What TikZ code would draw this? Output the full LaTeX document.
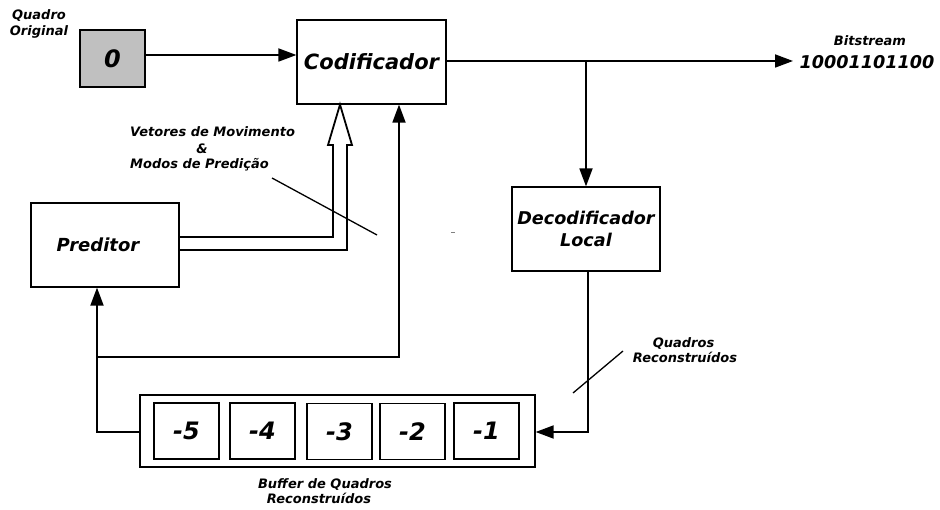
\documentclass[tikz,border=0pt]{standalone}
\usepackage{fontspec}
\setmainfont{DejaVu Sans}
\usetikzlibrary{arrows.meta,calc}
\definecolor{boxgray}{RGB}{192,192,192}
\begin{document}
\begin{tikzpicture}[x=1pt,y=-1pt,
  blk/.style={draw,line width=1.2pt,inner sep=0pt,align=center,font=\bfseries\itshape\fontsize{18}{22}\selectfont},
  cell/.style={draw,line width=1.2pt,inner sep=0pt,minimum width=65pt,minimum height=56pt,font=\bfseries\itshape\fontsize{24}{28}\selectfont},
  lbl/.style={font=\bfseries\itshape\fontsize{13}{15.5}\selectfont,inner sep=0pt,align=center},
  conn/.style={line width=1.8pt},
  arr/.style={conn,-{Triangle[length=18pt,width=13pt]}},
  thin/.style={line width=1.3pt}]
\useasboundingbox (0,0) rectangle (940,510);

% blocks
\node[cell,fill=boxgray,minimum height=57pt] (q0) at (112.5,58.5) {0};
\node[blk,minimum width=149pt,minimum height=84pt,font=\bfseries\itshape\fontsize{21}{25}\selectfont] (cod) at (371.5,62) {Codificador};
\node[blk,minimum width=148pt,minimum height=84pt,font=\bfseries\itshape\fontsize{17.6}{22}\selectfont] (dec) at (586,229) {Decodificador\\Local};
\node[blk,minimum width=148pt,minimum height=84pt] (pred) at (105,245) {\hspace*{-14pt}Preditor};
\node[draw,line width=1.3pt,minimum width=395pt,minimum height=72pt,inner sep=0pt] (buf) at (337.5,431) {};
\node[cell] (c5) at (186.5,431) {-5};
\node[cell] (c4) at (262.5,431) {-4};
\node[cell] (c3) at (339.5,431.5) {-3};
\node[cell] (c2) at (412.5,431.5) {-2};
\node[cell] (c1) at (486.5,431) {-1};

% labels
\node[lbl] (qo) at (39,24) {Quadro\\Original};
\node[lbl] (bs1) at (870,41) {Bitstream};
\node[lbl,font=\bfseries\itshape\fontsize{17.6}{20}\selectfont] (bs2) at (867,62) {10001101100};
\node[lbl,anchor=west] (vm1) at (130,132) {Vetores de Movimento};
\node[lbl] (vm2) at (202,149) {\&};
\node[lbl,anchor=west] (vm3) at (130,165) {Modos de Predição};
\node[lbl] (qr) at (685,350) {\hspace*{-3pt}Quadros\\Reconstruídos};
\node[lbl] (bl) at (325,491) {Buffer de Quadros\\\hspace*{-12pt}Reconstruídos};

% coordinates
\coordinate (in1) at (q0.east |- 0,55);
\coordinate (in2) at (cod.west |- 0,55);
\coordinate (o1) at (cod.east |- 0,61);
\coordinate (o2) at (793,61);
\coordinate (br) at (586,61);
\coordinate (d1) at (588,0 |- dec.south);
\coordinate (d2) at (588,432);
\coordinate (b1) at (buf.east |- 0,432);
\coordinate (l1) at (buf.west |- 0,432);
\coordinate (l2) at (97,432);
\coordinate (l3) at (97,0 |- pred.south);
\coordinate (f1) at (97,357);
\coordinate (f2) at (399,357);
\coordinate (f3) at (399,0 |- cod.south);

% connectors
\draw[arr] (in1) -- (in2);
\draw[arr] (o1) -- (o2);
\draw[arr] (br) -- (dec.north);
\draw[arr] (d1) -- (d2) -- (b1);
\draw[arr] (l1) -- (l2) -- (l3);
\draw[arr] (f1) -- (f2) -- (f3);

% hollow double arrow from predictor to coder
\draw[conn,line join=miter] (pred.east |- 0,237) -- (333,237) -- (333,145) -- (328,145)
  -- (340,0 |- cod.south) -- (352,145) -- (347,145) -- (347,250) -- (pred.east |- 0,250);

% marker lines
\draw[thin] (272,178) -- (377,235);
\draw[thin] (573,393) -- (623,351);
\draw[line width=0.6pt,gray] (451,232) -- (455,232);
\end{tikzpicture}
\end{document}
